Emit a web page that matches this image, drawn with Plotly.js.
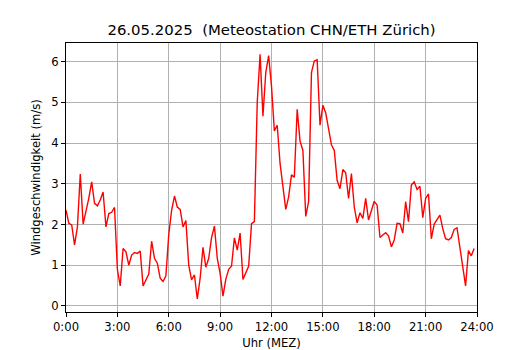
<!DOCTYPE html>
<html>
<head>
<meta charset="utf-8">
<script src="https://cdn.plot.ly/plotly-3.0.1.min.js"></script>
<style>html,body{margin:0;padding:0;background:#fff;}#chart{width:530px;height:350px;}</style>
</head>
<body>
<div id="chart"></div>
<script>
// 10-minute wind speed values (m/s), 0:00 .. 23:50
const windSpeed = [
  2.35, 2.03, 1.99, 1.50, 1.94, 3.24, 2.01, 2.30, 2.65, 3.05, 2.52, 2.46,
  2.60, 2.80, 1.94, 2.27, 2.30, 2.42, 0.90, 0.49, 1.41, 1.33, 1.00, 1.25,
  1.31, 1.29, 1.35, 0.49, 0.65, 0.78, 1.59, 1.17, 1.05, 0.68, 0.60, 0.74,
  1.75, 2.35, 2.70, 2.43, 2.37, 1.94, 2.10, 1.00, 0.64, 0.76, 0.17, 0.68,
  1.44, 0.95, 1.17, 1.68, 1.96, 1.17, 0.80, 0.24, 0.66, 0.90, 0.98, 1.67,
  1.37, 1.79, 0.65, 0.82, 0.98, 2.02, 2.07, 5.00, 6.18, 4.66, 5.74, 6.15,
  5.40, 4.30, 4.44, 3.50, 2.90, 2.37, 2.68, 3.22, 3.16, 4.83, 4.05, 3.82,
  2.20, 2.56, 5.73, 6.02, 6.05, 4.44, 4.93, 4.74, 4.35, 3.96, 3.82, 3.08,
  2.88, 3.35, 3.27, 2.64, 3.25, 2.43, 2.04, 2.29, 2.15, 2.64, 2.11, 2.35,
  2.57, 2.48, 1.68, 1.74, 1.80, 1.72, 1.45, 1.62, 2.03, 2.02, 1.79, 2.56,
  2.07, 2.97, 3.05, 2.86, 2.94, 2.17, 2.64, 2.75, 1.65, 2.01, 2.11, 2.23,
  1.90, 1.65, 1.62, 1.68, 1.88, 1.92, 1.44, 0.98, 0.49, 1.36, 1.23, 1.41
];
// time of day in hours for each value (10-minute steps)
const hours = windSpeed.map((_, i) => i / 6);
const xTickVals = [0, 3, 6, 9, 12, 15, 18, 21, 24];
const xTickText = ["0:00", "3:00", "6:00", "9:00", "12:00", "15:00", "18:00", "21:00", "24:00"];
const yTickVals = [0, 1, 2, 3, 4, 5, 6];

const font = "DejaVu Sans, sans-serif";
const trace = {
  x: hours, y: windSpeed, type: "scatter", mode: "lines",
  line: {color: "#ff0000", width: 1.4}, hoverinfo: "skip"
};
const axisCommon = {
  showline: true, mirror: true, linecolor: "#000", linewidth: 1,
  ticks: "outside", ticklen: 4, tickwidth: 1, tickcolor: "#000",
  showgrid: true, gridcolor: "#b0b0b0", gridwidth: 1,
  zeroline: false, tickfont: {family: font, size: 11.6, color: "#000"},
  fixedrange: true
};
const layout = {
  width: 530, height: 350,
  margin: {l: 66, r: 53, t: 42.5, b: 37.5},
  paper_bgcolor: "#fff", plot_bgcolor: "#fff",
  showlegend: false,
  font: {family: font, color: "#000"},
  title: {
    text: "26.05.2025  (Meteostation CHN/ETH Zürich)",
    font: {family: font, size: 14.9, color: "#000"},
    x: 0.5, xref: "paper", xanchor: "center",
    y: 1 - 29.4 / 350, yref: "container", yanchor: "middle"
  },
  xaxis: Object.assign({}, axisCommon, {
    range: [0, 24], tickmode: "array", tickvals: xTickVals, ticktext: xTickText,
    title: {text: "Uhr (MEZ)", font: {family: font, size: 11.6, color: "#000"}, standoff: 5}
  }),
  yaxis: Object.assign({}, axisCommon, {
    range: [-0.15, 6.46], tickmode: "array", tickvals: yTickVals,
    title: {text: "Windgeschwindigkeit (m/s)", font: {family: font, size: 11.6, color: "#000"}, standoff: 8}
  })
};
Plotly.newPlot("chart", [trace], layout, {displayModeBar: false, staticPlot: true});
</script>
</body>
</html>
